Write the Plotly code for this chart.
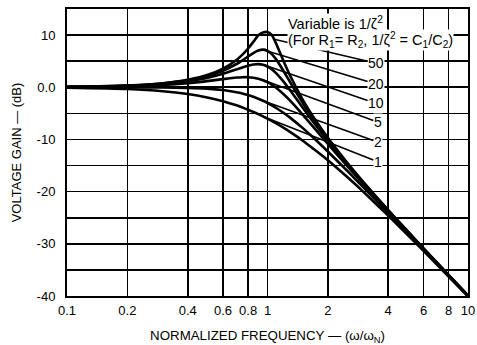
import math
import plotly.graph_objects as go

# Normalized frequency (omega / omega_N)
freq = [0.1, 0.2, 0.3, 0.4, 0.5, 0.6, 0.7, 0.75, 0.8, 0.85, 0.9, 0.95, 1.0,
        1.05, 1.1, 1.2, 1.3, 1.5, 1.7, 2, 2.5, 3, 4, 6, 10]

# Voltage gain (dB), one list per value of 1/zeta^2
gain_50 = [0.08, 0.34, 0.78, 1.44, 2.35, 3.58, 5.24, 6.26, 7.43, 8.70, 9.96, 10.5, 10.6,
           10.06, 8.51, 5.10, 2.14, -2.41, -5.80, -9.69, -14.48, -18.11, -23.55, -30.89, -39.92]
gain_20 = [0.08, 0.32, 0.73, 1.32, 2.13, 3.17, 4.46, 5.17, 5.89, 6.55, 7.03, 7.21, 6.99,
           6.36, 5.44, 3.17, 0.89, -3.04, -6.18, -9.91, -14.60, -18.18, -23.58, -30.91, -39.92]
gain_10 = [0.07, 0.28, 0.63, 1.14, 1.79, 2.57, 3.41, 3.80, 4.14, 4.37, 4.44, 4.31, 3.98,
           3.45, 2.77, 1.14, -0.62, -3.91, -6.75, -10.25, -14.78, -18.30, -23.64, -30.93, -39.93]
gain_5 = [0.05, 0.21, 0.46, 0.79, 1.18, 1.56, 1.86, 1.93, 1.93, 1.84, 1.65, 1.36, 0.97,
          0.49, -0.05, -1.29, -2.62, -5.27, -7.70, -10.86, -15.13, -18.53, -23.76, -30.98, -39.95]
gain_2 = [0.00, -0.01, -0.04, -0.11, -0.26, -0.53, -0.94, -1.19, -1.49, -1.82, -2.19, -2.59, -3.01,
          -3.46, -3.92, -4.88, -5.86, -7.83, -9.71, -12.30, -16.03, -19.14, -24.10, -31.13, -40.00]
gain_1 = [-0.09, -0.34, -0.75, -1.29, -1.94, -2.67, -3.46, -3.88, -4.30, -4.72, -5.15, -5.58, -6.02,
          -6.46, -6.89, -7.75, -8.60, -10.24, -11.84, -13.98, -17.21, -20.00, -24.61, -31.36, -40.09]

series_names = ["50", "20", "10", "5", "2", "1"]
series_values = [gain_50, gain_20, gain_10, gain_5, gain_2, gain_1]

# Where each label's leader line touches its curve (frequency, dB)
leader_freq = [1.08, 0.95, 0.97, 0.95, 0.95, 0.95]
leader_gain = [9.2, 7.2, 4.2, 1.4, -2.6, -5.6]
# Label positions (frequency, dB)
label_freq = [3.48, 3.48, 3.48, 3.55, 3.55, 3.55]
label_gain = [4.6, 0.6, -3.1, -6.7, -10.5, -14.3]

x_ticks = [0.1, 0.2, 0.4, 0.6, 0.8, 1, 2, 4, 6, 8, 10]
x_ticktext = ["0.1", "0.2", "0.4", "0.6", "0.8", "1", "2", "4", "6", "8", "10"]
y_ticks = [-40, -35, -30, -25, -20, -15, -10, -5, 0, 5, 10, 15]
y_ticktext = ["-40", "", "-30", "", "-20", "", "-10", "", "0.0", "", "10", ""]

FONT = "Liberation Sans, Arial, Helvetica, sans-serif"

fig = go.Figure()
for name, vals in zip(series_names, series_values):
    fig.add_trace(go.Scatter(
        x=freq, y=vals, mode="lines", name=name,
        line=dict(color="black", width=2.6, shape="spline", smoothing=0.6),
        showlegend=False, hoverinfo="skip"))

for name, hx, hy, tx, ty in zip(series_names, leader_freq, leader_gain, label_freq, label_gain):
    fig.add_annotation(
        x=math.log10(hx), y=hy, xref="x", yref="y",
        ax=math.log10(tx), ay=ty, axref="x", ayref="y",
        text=name, showarrow=True, arrowhead=0, arrowwidth=1.6, arrowcolor="black",
        bgcolor="white", borderpad=0,
        font=dict(family=FONT, size=14, color="black"))

fig.add_annotation(
    x=0.548, y=0.95, xref="paper", yref="paper", xanchor="left", yanchor="middle",
    text="Variable is 1/\u03b6<sup>2</sup>", showarrow=False, bgcolor="white", borderpad=0,
    font=dict(family=FONT, size=14.5, color="black"))
fig.add_annotation(
    x=0.548, y=0.892, xref="paper", yref="paper", xanchor="left", yanchor="middle",
    text="(For R<sub>1</sub>= R<sub>2</sub>, 1/\u03b6<sup>2</sup> = C<sub>1</sub>/C<sub>2</sub>)",
    showarrow=False, bgcolor="white", borderpad=0,
    font=dict(family=FONT, size=14.5, color="black"))

axis_common = dict(
    showline=True, mirror=True, linecolor="black", linewidth=2,
    showgrid=True, gridcolor="black", gridwidth=1.6, zeroline=False,
    ticks="", tickfont=dict(family=FONT, size=13, color="black"),
    automargin=False,
)

fig.update_xaxes(
    type="log", range=[-1, 1], tickvals=x_ticks, ticktext=x_ticktext,
    title=dict(text="NORMALIZED FREQUENCY \u2014 (\u03c9/\u03c9<sub>N</sub>)",
               font=dict(family=FONT, size=13.3, color="black"), standoff=21),
    ticklabelstandoff=1, **axis_common)
fig.update_yaxes(
    range=[-40, 15], tickvals=y_ticks, ticktext=y_ticktext,
    title=dict(text="VOLTAGE GAIN \u2014 (dB)",
               font=dict(family=FONT, size=13, color="black"), standoff=12),
    ticklabelstandoff=7, **axis_common)

fig.update_layout(
    width=477, height=345,
    margin=dict(l=67, r=9, t=9, b=49, autoexpand=False),
    paper_bgcolor="white", plot_bgcolor="white",
    font=dict(family=FONT, color="black"),
)

# Remove the page's default body margin so the figure fills the window exactly.
fig.write_html(
    "out.html",
    config={"displayModeBar": False, "staticPlot": True},
    post_script="document.body.style.margin='0';document.body.style.overflow='hidden';",
)
